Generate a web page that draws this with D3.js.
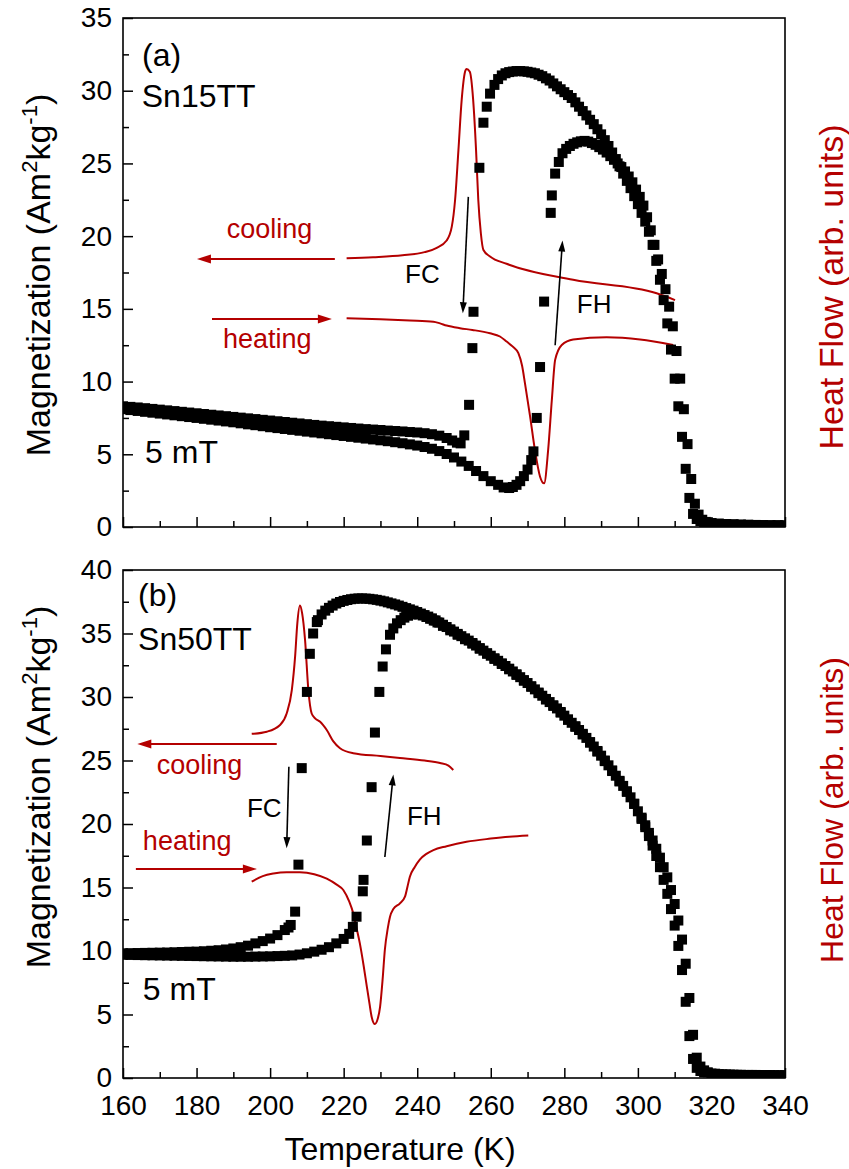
<!DOCTYPE html>
<html><head><meta charset="utf-8">
<script src="https://cdn.jsdelivr.net/npm/d3@7"></script>
<style>body{margin:0;background:#fff}svg{display:block}</style>
</head><body><svg id="c" width="849" height="1169"></svg>
<script>
// ---------------- DATA ----------------
const xTicks = [160,180,200,220,240,260,280,300,320,340];
const xMinor = [170,190,210,230,250,270,290,310,330];
const yTicksA = [0,5,10,15,20,25,30,35];
const yMinorA = [2.5,7.5,12.5,17.5,22.5,27.5,32.5];
const yTicksB = [0,5,10,15,20,25,30,35,40];
const yMinorB = [2.5,7.5,12.5,17.5,22.5,27.5,32.5,37.5];

// Panel (a) Sn15TT : magnetization [T (K), M (Am2/kg)]
const sn15_FC = [[160,8.3],[162,8.26],[164,8.22],[166,8.17],[168,8.12],[170,8.07],[172,8.02],[174,7.97],[176,7.92],[178,7.87],[180,7.82],[182,7.77],[184,7.72],[186,7.67],[188,7.62],[190,7.57],[192,7.52],[194,7.47],[196,7.42],[198,7.37],[200,7.32],[202,7.27],[204,7.22],[206,7.17],[208,7.12],[210,7.07],[212,7.02],[214,6.97],[216,6.93],[218,6.89],[220,6.85],[222,6.81],[224,6.77],[226,6.73],[228,6.7],[230,6.67],[232,6.63],[234,6.6],[236,6.57],[238,6.53],[240,6.5],[242,6.45],[244,6.38],[246,6.28],[248,6.12],[249.5,5.95],[250.8,5.8],[251.8,5.75],[252.8,6.3],[254.1,8.4],[255,12.3],[255.3,14.8],[256.9,24.7],[258,27.8],[258.9,28.9],[259.8,29.8],[261,30.4],[262,30.8],[263,31.05],[264,31.2],[265,31.28],[266,31.32],[267,31.35],[268,31.35],[269,31.33],[270,31.3],[271,31.25],[272,31.2],[273,31.1],[274,31.0],[275,30.85],[276,30.7],[277,30.5],[278,30.3],[279,30.1],[280,29.9],[281,29.7],[282,29.5],[283,29.2],[284,28.9],[285,28.6],[286,28.3],[287,28.0],[288,27.7],[289,27.35],[290,27.0],[291,26.6],[292,26.2],[293,25.75],[294,25.3],[295,24.8],[296,24.3],[297,23.8],[298,23.3],[299,22.75],[300,22.2],[301,21.6],[302,21.0],[303,20.3],[304,19.4],[305,18.3],[306,17.0],[307,15.6],[308,14.0],[309,12.2],[310,10.2],[311,8.3],[312,6.2],[313,4.0],[314,2.0],[315,0.9],[316,0.55],[317,0.4],[318,0.3],[320,0.25],[322,0.22],[324,0.2],[326,0.18],[328,0.16],[330,0.15],[332,0.14],[334,0.13],[336,0.12],[338,0.12],[340,0.11]];
const sn15_FH = [[160,8.1],[162,8.04],[164,7.98],[166,7.92],[168,7.86],[170,7.8],[172,7.74],[174,7.68],[176,7.62],[178,7.56],[180,7.5],[182,7.44],[184,7.38],[186,7.32],[188,7.26],[190,7.2],[192,7.13],[194,7.06],[196,7.0],[198,6.93],[200,6.86],[202,6.8],[204,6.74],[206,6.68],[208,6.62],[210,6.56],[212,6.5],[214,6.44],[216,6.38],[218,6.32],[220,6.26],[222,6.2],[224,6.14],[226,6.08],[228,6.02],[230,5.96],[232,5.9],[234,5.83],[236,5.76],[238,5.68],[240,5.6],[242,5.5],[244,5.38],[246,5.22],[248,5.02],[250,4.78],[252,4.5],[254,4.2],[256,3.85],[258,3.5],[260,3.15],[262,2.9],[263.5,2.72],[265,2.68],[266,2.75],[267,2.9],[268,3.15],[269,3.5],[270,3.95],[271,4.6],[271.6,5.2],[272.5,7.5],[273.4,11.0],[274.5,15.5],[276.3,21.6],[276.6,22.8],[277.5,24.3],[278.5,25.1],[279.5,25.7],[280.5,26.0],[281.5,26.2],[282.5,26.35],[283.5,26.45],[284.5,26.52],[285.5,26.55],[286.5,26.5],[287.5,26.4],[288.5,26.28],[289.5,26.12],[290.5,25.95],[291.5,25.75],[292.5,25.5],[293.5,25.25],[294.5,25.0],[295.5,24.75],[296.5,24.45],[297.5,24.1],[298.5,23.7],[299.5,23.2],[300.5,22.7],[301.5,22.1],[302.5,21.3],[303.5,20.4],[304.5,19.4],[305.5,18.4],[306.5,17.4],[307.5,16.35],[308.5,15.15],[309.5,13.8],[310.5,12.1],[311.5,10.2],[312.5,8.1],[313.5,5.7],[314.5,3.3],[315.5,1.6],[316.5,0.85],[317.5,0.5],[318.5,0.35],[320,0.27],[322,0.23],[324,0.2],[326,0.18],[328,0.16],[330,0.15],[332,0.14],[334,0.13],[336,0.12],[338,0.12],[340,0.11]];
// Panel (a) heat flow (arb. units)
const sn15_HFcool = [[220.8,18.48],[228,18.55],[236,18.68],[242,18.9],[245.3,19.2],[248,19.7],[249.4,20.65],[250.3,22.5],[251.2,25.9],[252.1,29.4],[253,31.3],[253.4,31.5],[254.3,31.3],[255.2,29.4],[256,25.9],[256.6,22.5],[257.3,20.2],[258,19.05],[259.8,18.6],[264.3,18.1],[282.4,17.0],[305.1,16.07],[310.1,15.6]];
const sn15_HFheat = [[220.8,14.35],[230,14.28],[238,14.2],[244.4,14.12],[246.2,14.0],[248,13.85],[251.6,13.67],[255,13.55],[259.8,13.32],[262.5,13.1],[264.3,12.75],[266,12.4],[267.5,11.95],[268.5,11.1],[269.3,9.88],[270.7,7.59],[272,5.3],[273.4,3.46],[274.5,3.0],[275.6,5.3],[276.6,8.73],[277.5,11.49],[279.3,12.52],[282.4,12.9],[291.5,13.05],[300.6,12.9],[309.6,12.52]];

// Panel (b) Sn50TT
const sn50_FC = [[160,9.82],[162,9.83],[164,9.84],[166,9.85],[168,9.86],[170,9.87],[172,9.88],[174,9.9],[176,9.92],[178,9.94],[180,9.95],[182,9.98],[184,10.02],[186,10.06],[188,10.12],[190,10.2],[192,10.3],[194,10.42],[196,10.6],[198,10.78],[200,10.98],[202,11.25],[204,11.65],[205,11.85],[205.6,12.05],[206.8,13.1],[207.7,16.8],[208.6,24.4],[210,30.4],[210.8,33.4],[211.7,35.0],[212.7,35.9],[213,36.05],[214,36.5],[215,36.8],[216,37.02],[217,37.2],[218,37.36],[219,37.48],[220,37.57],[221,37.64],[222,37.7],[223,37.74],[224,37.76],[225,37.76],[226,37.75],[227,37.73],[228,37.69],[229,37.65],[230,37.59],[231,37.53],[232,37.45],[233,37.37],[234,37.29],[235,37.2],[236,37.1],[237,37.0],[238,36.9],[239,36.8],[240,36.69],[241,36.57],[242,36.45],[243,36.33],[244,36.19],[245,36.03],[246,35.86],[247,35.69],[248,35.51],[249,35.33],[250,35.15],[251,34.97],[252,34.79],[253,34.62],[254,34.44],[255,34.25],[256,34.05],[257,33.85],[258,33.65],[259,33.45],[260,33.25],[261,33.05],[262,32.85],[263,32.65],[264,32.44],[265,32.23],[266,32.01],[267,31.79],[268,31.56],[269,31.33],[270,31.1],[271,30.85],[272,30.6],[273,30.35],[274,30.1],[275,29.85],[276,29.6],[277,29.35],[278,29.1],[279,28.82],[280,28.53],[281,28.24],[282,27.97],[283,27.7],[284,27.4],[285,27.1],[286,26.78],[287,26.45],[288,26.1],[289,25.75],[290,25.38],[291,25.0],[292,24.62],[293,24.22],[294,23.8],[295,23.4],[296,23.0],[297,22.58],[298,22.1],[299,21.58],[300,21.0],[301,20.4],[302,19.75],[303,19.05],[304,18.3],[305,17.48],[306,16.6],[307,15.6],[308,14.5],[309,13.3],[310,12.0],[311,10.4],[312,8.5],[313,6.0],[314,3.3],[315,1.5],[316,0.8],[317,0.55],[318,0.45],[320,0.35],[322,0.3],[324,0.28],[326,0.26],[328,0.25],[330,0.24],[332,0.24],[334,0.23],[336,0.23],[338,0.22],[340,0.22]];
const sn50_FH = [[160,9.7],[162,9.69],[164,9.68],[166,9.67],[168,9.66],[170,9.65],[172,9.64],[174,9.63],[176,9.62],[178,9.61],[180,9.6],[182,9.59],[184,9.58],[186,9.57],[188,9.56],[190,9.55],[192,9.55],[194,9.55],[196,9.56],[198,9.57],[200,9.58],[202,9.6],[204,9.62],[206,9.65],[208,9.72],[210,9.82],[212,9.95],[214,10.1],[216,10.3],[218,10.6],[220,10.95],[221.5,11.35],[222.5,11.9],[223.5,12.7],[225.2,14.7],[225.4,15.6],[226.3,18.7],[227.6,22.9],[228.5,27.2],[229.7,30.4],[230.6,32.4],[231.5,33.75],[232.6,34.9],[233.5,35.4],[234.5,35.8],[235.5,36.05],[236.5,36.25],[237.5,36.4],[238.5,36.5],[239.5,36.55],[240.5,36.5],[241.5,36.42],[242.5,36.3],[243.5,36.16],[244.5,36.02],[245.5,35.87],[247,35.6],[249,35.25],[251,34.9],[253,34.55],[255,34.2],[257,33.8],[259,33.4],[261,33.0],[263,32.6],[265,32.18],[267,31.74],[269,31.28],[271,30.8],[273,30.3],[275,29.8],[277,29.3],[279,28.77],[281,28.2],[283,27.65],[285,27.05],[287,26.4],[289,25.7],[291,24.95],[293,24.17],[295,23.35],[297,22.53],[299,21.6],[301,20.5],[302,19.9],[303,19.3],[304,18.7],[305,18.05],[306,17.35],[307,16.6],[308,15.8],[309,14.8],[310,13.7],[311,12.4],[312,10.9],[313,9.0],[314,6.3],[315,3.4],[316,1.6],[317,0.9],[318,0.6],[319,0.45],[321,0.34],[323,0.29],[325,0.27],[327,0.25],[329,0.24],[331,0.24],[333,0.23],[335,0.23],[337,0.22],[339,0.22]];
const sn50_HFcool = [[195,27.1],[199.1,27.27],[202.7,27.8],[204.5,28.7],[205.9,30.55],[206.8,33.2],[207.4,35.8],[208.1,37.2],[208.7,36.6],[209.5,34.5],[210.4,30.55],[211.3,28.7],[212.3,28.3],[213.6,28.05],[215.4,27.4],[217.2,26.5],[219,25.96],[222.6,25.57],[230,25.35],[235.3,25.2],[242,25.0],[246.2,24.8],[248.5,24.6],[249.8,24.25]];
const sn50_HFheat = [[195,15.46],[198,15.9],[200.9,16.1],[204.5,16.2],[208.1,16.2],[212,16.05],[215.4,15.7],[218,15.25],[219.9,14.8],[221.5,13.9],[222.6,12.97],[223.5,11.8],[224.4,10.6],[225.4,8.9],[226.3,7.2],[227,5.9],[227.6,4.83],[228.5,4.25],[229.2,4.6],[229.9,5.6],[230.6,7.8],[231.2,10.1],[232,11.8],[232.6,12.7],[233.5,13.3],[235.3,13.75],[236.7,14.3],[237.3,15.0],[238,15.85],[239.3,16.6],[240.7,17.2],[242.5,17.65],[244.4,17.95],[248,18.25],[253.4,18.6],[260,18.85],[265,19.0],[270.2,19.1]];

// Annotations (data coordinates)
const arrowsA = [
  {from:[217.6,18.43], to:[180.1,18.43], red:true},
  {from:[184.2,14.3], to:[216.8,14.3], red:true},
  {from:[253.9,22.7], to:[252.4,14.7], red:false},
  {from:[277.5,12.5], to:[279.5,19.7], red:false}];
const arrowsB = [
  {from:[201.8,26.3], to:[163.9,26.3], red:true},
  {from:[163.5,16.46], to:[196.4,16.46], red:true},
  {from:[205.1,24.5], to:[204.5,18.1], red:false},
  {from:[231.2,17.4], to:[233.5,23.9], red:false}];
const labelsA = [
  {t:"(a)", at:[165.2,31.7], size:32, red:false},
  {t:"Sn15TT", at:[165.1,28.9], size:32, red:false},
  {t:"cooling", at:[188.2,19.9], size:27, red:true},
  {t:"heating", at:[187.2,12.3], size:27, red:true},
  {t:"FC", at:[236.7,16.8], size:26, red:false},
  {t:"FH", at:[283.4,14.7], size:26, red:false},
  {t:"5 mT", at:[166,4.4], size:32, red:false}];
const labelsB = [
  {t:"(b)", at:[164.1,37.2], size:32, red:false},
  {t:"Sn50TT", at:[164.1,33.7], size:32, red:false},
  {t:"cooling", at:[169.2,23.9], size:27, red:true},
  {t:"heating", at:[165.4,17.95], size:27, red:true},
  {t:"FC", at:[193.7,20.55], size:26, red:false},
  {t:"FH", at:[237.2,19.9], size:26, red:false},
  {t:"5 mT", at:[165.4,6.14], size:32, red:false}];

// ---------------- DRAW ----------------
const FONT = '"Liberation Sans", Arial, Helvetica, sans-serif';
const RED = "#b40000";
const svg = d3.select("#c").attr("font-family", FONT);
svg.append("rect").attr("width",849).attr("height",1169).attr("fill","#fff");
const x = d3.scaleLinear().domain([160,340]).range([123,785]);

function drawArrow(g, p0, p1, color, w, hl, hw) {
  const dx=p1[0]-p0[0], dy=p1[1]-p0[1], L=Math.hypot(dx,dy), ux=dx/L, uy=dy/L;
  const bx=p1[0]-ux*hl, by=p1[1]-uy*hl;
  g.append("line").attr("x1",p0[0]).attr("y1",p0[1]).attr("x2",bx+ux).attr("y2",by+uy)
    .attr("stroke",color).attr("stroke-width",w);
  g.append("path").attr("d",`M${p1[0]},${p1[1]}L${bx-uy*hw},${by+ux*hw}L${bx+uy*hw},${by-ux*hw}Z`).attr("fill",color);
}

function panel(cfg, id) {
  const y = d3.scaleLinear().domain(cfg.yDomain).range(cfg.yRange);
  const hf = d3.scaleLinear().domain(cfg.yDomain).range(cfg.yRange); // heat flow (arb. units)
  const top = cfg.yRange[1], bot = cfg.yRange[0];
  const g = svg.append("g");
  g.append("clipPath").attr("id","clip"+id).append("rect")
    .attr("x",123).attr("y",top).attr("width",662).attr("height",bot-top);
  const plot = g.append("g").attr("clip-path",`url(#clip${id})`);
  const line = d3.line().x(d=>x(d[0])).y(d=>hf(d[1])).curve(d3.curveMonotoneX);
  [cfg.hfCool, cfg.hfHeat].forEach(s => plot.append("path").attr("d",line(s))
    .attr("fill","none").attr("stroke",RED).attr("stroke-width",2));
  [cfg.fc, cfg.fh].forEach(s => plot.append("g").selectAll("rect").data(s).join("rect")
    .attr("x",d=>x(d[0])-5).attr("y",d=>y(d[1])-5).attr("width",10).attr("height",10).attr("fill","#000"));

  const ax = g.append("g").attr("transform",`translate(0,${bot})`)
    .call(d3.axisBottom(x).tickValues(xTicks).tickSize(-10).tickPadding(17)
      .tickFormat(cfg.xLabels ? d3.format("d") : ""));
  const axm = g.append("g").attr("transform",`translate(0,${bot})`)
    .call(d3.axisBottom(x).tickValues(xMinor).tickSize(-6).tickFormat(""));
  const ay = g.append("g").attr("transform",`translate(123,0)`)
    .call(d3.axisLeft(y).tickValues(cfg.yTicks).tickSize(-10).tickPadding(11).tickFormat(d3.format("d")));
  const aym = g.append("g").attr("transform",`translate(123,0)`)
    .call(d3.axisLeft(y).tickValues(cfg.yMinor).tickSize(-6).tickFormat(""));
  [ax,axm,ay,aym].forEach(a => {
    a.select(".domain").remove();
    a.selectAll("line").attr("stroke","#000").attr("stroke-width",1.5);
    a.selectAll("text").attr("font-family",FONT).attr("font-size",28).attr("fill","#000");
  });
  g.append("rect").attr("x",123).attr("y",top).attr("width",662).attr("height",bot-top)
    .attr("fill","none").attr("stroke","#000").attr("stroke-width",1.6);

  cfg.arrows.forEach(a => {
    const p0=[x(a.from[0]),y(a.from[1])], p1=[x(a.to[0]),y(a.to[1])];
    if (a.red) drawArrow(g,p0,p1,RED,2,14,4.5); else drawArrow(g,p0,p1,"#000",1.6,11,3.5);
  });
  cfg.labels.forEach(l => g.append("text").attr("x",x(l.at[0])).attr("y",y(l.at[1]))
    .attr("font-size",l.size).attr("fill",l.red?RED:"#000").text(l.t));

  const t = g.append("text").attr("transform",`translate(50,${cfg.leftTitleY}) rotate(-90)`)
    .attr("text-anchor","middle").attr("font-size",34).attr("fill","#000");
  t.append("tspan").text("Magnetization (Am");
  t.append("tspan").attr("font-size",22).attr("dy",-13).text("2");
  t.append("tspan").attr("dy",13).text("kg");
  t.append("tspan").attr("font-size",22).attr("dy",-13).text("-1");
  t.append("tspan").attr("dy",13).text(")");
  g.append("text").attr("transform",`translate(843,${cfg.rightTitleY}) rotate(-90)`)
    .attr("text-anchor","middle").attr("font-size",cfg.rightTitleSize).attr("fill",RED).text("Heat Flow (arb. units)");
}

panel({yDomain:[0,35], yRange:[527,18], yTicks:yTicksA, yMinor:yMinorA, xLabels:false,
  fc:sn15_FC, fh:sn15_FH, hfCool:sn15_HFcool, hfHeat:sn15_HFheat, arrows:arrowsA, labels:labelsA,
  leftTitleY:275, rightTitleY:287, rightTitleSize:34}, "a");
panel({yDomain:[0,40], yRange:[1078,570], yTicks:yTicksB, yMinor:yMinorB, xLabels:true,
  fc:sn50_FC, fh:sn50_FH, hfCool:sn50_HFcool, hfHeat:sn50_HFheat, arrows:arrowsB, labels:labelsB,
  leftTitleY:787, rightTitleY:810, rightTitleSize:32}, "b");

svg.append("text").attr("x",400).attr("y",1160).attr("text-anchor","middle")
  .attr("font-size",32).attr("fill","#000").text("Temperature (K)");
</script></body></html>
